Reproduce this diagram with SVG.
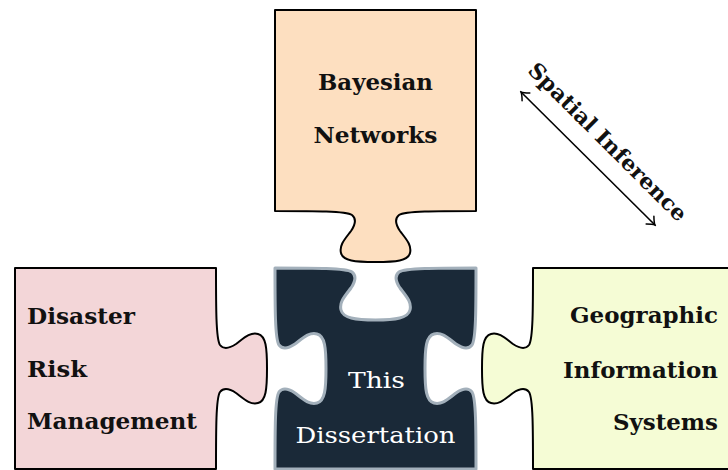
<svg xmlns="http://www.w3.org/2000/svg" width="728" height="470" viewBox="0 0 728 470">
  <style>
    .piece { stroke: #000; stroke-width: 2; stroke-linejoin: round; }
    .core { fill: #1a2938; stroke: #a3b0bb; stroke-width: 3; stroke-linejoin: round; }
    .lbl { font-family: "DejaVu Serif", "Liberation Serif", serif; font-weight: bold; font-size: 21.5px; fill: #111; }
    .lbl-w { font-family: "DejaVu Serif", "Liberation Serif", serif; font-size: 23px; fill: #fff; }
    .conn { stroke: #000; stroke-width: 1.6; fill: none; }
  </style>
  <defs>
    <marker id="tip" viewBox="-9 -7 11 14" markerWidth="11" markerHeight="14" refX="0" refY="0" orient="auto-start-reverse" markerUnits="userSpaceOnUse">
      <path d="M -7,-5.5 C -4,-2.5 -1.5,-0.6 0,0 C -1.5,0.6 -4,2.5 -7,5.5" fill="none" stroke="#000" stroke-width="1.5" stroke-linecap="round"/>
    </marker>
  </defs>
  <rect width="728" height="470" fill="#fff"/>

  <!-- top piece: tab on its lower edge -->
  <g id="bayesian-networks">
    <path class="piece" fill="#fddfc0" d="M 275,10 H 476 V 211
      C 436,211 405,211 399,215 C 394,219 396,225 400,231 C 406,239 412,245 410,253
      C 408,261 396,262 375.5,262 C 355,262 343,261 341,253 C 339,245 345,239 351,231
      C 355,225 357,219 352,215 C 346,211 315,211 275,211 Z"/>
    <text class="lbl" x="375.5" y="90" text-anchor="middle" textLength="115" lengthAdjust="spacingAndGlyphs">Bayesian</text>
    <text class="lbl" x="375.5" y="143" text-anchor="middle" textLength="124" lengthAdjust="spacingAndGlyphs">Networks</text>
  </g>

  <!-- left piece: tab on its right edge -->
  <g id="disaster-risk-management">
    <path class="piece" fill="#f3d6d8" d="M 15,268 H 216
      C 216,308 216,339 220,345 C 224,350 230,348 236,344 C 244,338 250,332 258,334
      C 266,336 267,348 267,368.5 C 267,389 266,401 258,403 C 250,405 244,399 236,393
      C 230,389 224,387 220,392 C 216,398 216,429 216,469 H 15 Z"/>
    <text class="lbl" x="27" y="324" textLength="108" lengthAdjust="spacingAndGlyphs">Disaster</text>
    <text class="lbl" x="27" y="377" textLength="60" lengthAdjust="spacingAndGlyphs">Risk</text>
    <text class="lbl" x="27" y="429" textLength="170" lengthAdjust="spacingAndGlyphs">Management</text>
  </g>

  <!-- centre piece: blanks on top, left and right -->
  <g id="this-dissertation">
    <path class="core" d="M 275,268
      C 315,268 346,268 352,272 C 357,276 355,282 351,288 C 345,296 339,302 341,310
      C 343,318 355,320 375.5,320 C 396,320 408,318 410,310 C 412,302 406,296 400,288
      C 396,282 394,276 399,272 C 405,268 436,268 476,268
      C 476,308 476,339 472,345 C 468,350 462,348 456,344 C 448,338 442,332 434,334
      C 426,336 425,348 425,368.5 C 425,389 426,401 434,403 C 442,405 448,399 456,393
      C 462,389 468,387 472,392 C 476,398 476,429 476,469
      H 275
      C 275,429 275,398 279,392 C 283,387 289,389 295,393 C 303,399 309,405 317,403
      C 325,401 326,389 326,368.5 C 326,348 325,336 317,334 C 309,332 303,338 295,344
      C 289,348 283,350 279,345 C 275,339 275,308 275,268 Z"/>
    <text class="lbl-w" x="376.5" y="388" text-anchor="middle" textLength="57" lengthAdjust="spacingAndGlyphs">This</text>
    <text class="lbl-w" x="375.5" y="443" text-anchor="middle" textLength="160" lengthAdjust="spacingAndGlyphs">Dissertation</text>
  </g>

  <!-- right piece: tab on its left edge -->
  <g id="geographic-information-systems">
    <path class="piece" fill="#f5fcd5" d="M 533,268 H 740 V 469 H 533
      C 533,429 533,398 529,392 C 525,387 519,389 513,393 C 505,399 499,405 491,403
      C 483,401 482,389 482,368.5 C 482,348 483,336 491,334 C 499,332 505,338 513,344
      C 519,348 525,350 529,345 C 533,339 533,308 533,268 Z"/>
    <text class="lbl" x="718" y="323" text-anchor="end" textLength="148" lengthAdjust="spacingAndGlyphs">Geographic</text>
    <text class="lbl" x="718" y="378" text-anchor="end" textLength="155" lengthAdjust="spacingAndGlyphs">Information</text>
    <text class="lbl" x="718" y="430" text-anchor="end" textLength="105" lengthAdjust="spacingAndGlyphs">Systems</text>
  </g>

  <!-- double-headed diagonal arrow with its label -->
  <g id="connectors">
    <line class="conn" x1="521" y1="92" x2="655" y2="225" marker-start="url(#tip)" marker-end="url(#tip)"/>
    <text class="lbl" transform="rotate(45)" x="530" y="-322" text-anchor="middle" textLength="214" lengthAdjust="spacingAndGlyphs">Spatial Inference</text>
  </g>
</svg>
